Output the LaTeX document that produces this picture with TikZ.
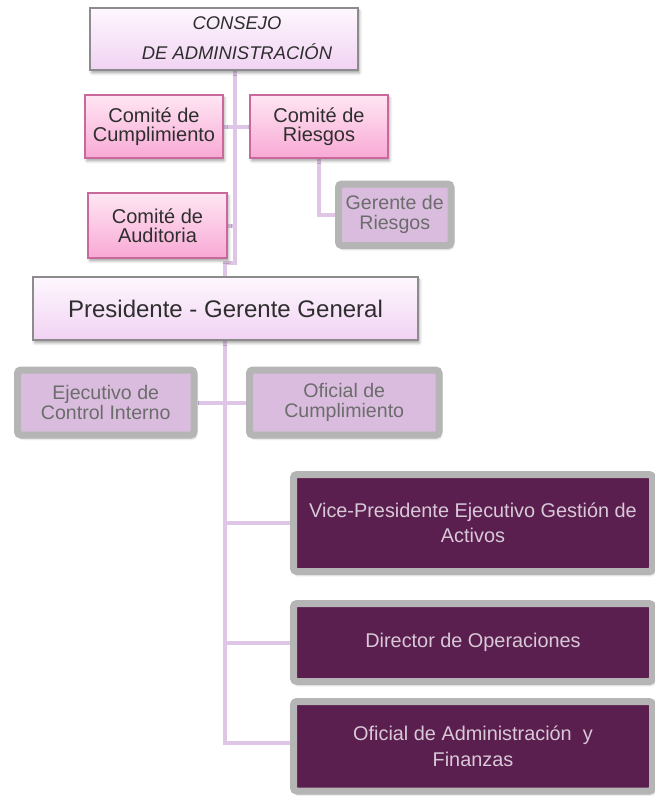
\documentclass[tikz,border=0pt]{standalone}
\usepackage{fontspec}
\setmainfont{Liberation Sans}
\usetikzlibrary{backgrounds,shadows.blur}
\definecolor{linec}{HTML}{DFC6E6}
\definecolor{topbg1}{HTML}{FEF7FE}
\definecolor{topbg2}{HTML}{F1D3F3}
\definecolor{topbd}{HTML}{8C8C8C}
\definecolor{pink1}{HTML}{FFE6F3}
\definecolor{pink2}{HTML}{F8A9D5}
\definecolor{pinkbd}{HTML}{C9689A}
\definecolor{frame}{HTML}{B5B5B5}
\definecolor{lilac}{HTML}{DABDDE}
\definecolor{plum}{HTML}{5A1F4E}
\definecolor{plumtxt}{HTML}{D8C8D8}
\definecolor{graytxt}{HTML}{6C6C6C}
\definecolor{darktxt}{HTML}{2E2E2E}
\tikzset{
  shd/.style={blur shadow={shadow xshift=1.2pt, shadow yshift=-2.2pt, shadow blur radius=2pt, shadow opacity=35}},
  topbox/.style={draw=topbd, line width=0.9pt, top color=topbg1, bottom color=topbg2, shd, text=darktxt, align=center, inner sep=0pt},
  combox/.style={draw=pinkbd, line width=0.9pt, top color=pink1, bottom color=pink2, shd, text=darktxt, align=center, inner sep=0pt,
     font=\fontsize{15}{14}\selectfont},
  lilbox/.style={draw=frame, line width=5.25pt, rounded corners=2.5pt, fill=lilac, shd, text=graytxt, align=center, inner sep=0pt,
     font=\fontsize{14.7}{15}\selectfont},
  plumbox/.style={draw=frame, line width=5.25pt, rounded corners=2.5pt, fill=plum, shd, text=plumtxt, align=center, inner sep=0pt,
     font=\fontsize{14.9}{19}\selectfont, minimum width=359*0.75pt},
  conn/.style={draw=linec, line width=3pt}
}
\begin{document}
\begin{tikzpicture}[x=0.75pt,y=-0.75pt]
\useasboundingbox (0,0) rectangle (654,796);
% nodes
\node[topbox, minimum width=268*0.75pt, minimum height=62*0.75pt] (cons) at (224,39) {};
\node[text=darktxt, align=center, inner sep=0pt, font=\fontsize{13.8}{23}\selectfont\itshape] (constxt) at (237,38) {CONSEJO\\DE ADMINISTRACIÓN};
\node[combox, minimum width=138*0.75pt, minimum height=63*0.75pt] (cc) at (154,126.5) {Comité de\\Cumplimiento};
\node[combox, minimum width=138*0.75pt, minimum height=63*0.75pt] (cr) at (319,126.5) {Comité de\\Riesgos};
\node[lilbox, minimum width=112.5*0.75pt, minimum height=61.5*0.75pt] (gr) at (394.75,214.75) {Gerente de\\Riesgos};
\node[combox, minimum width=139*0.75pt, minimum height=65*0.75pt] (ca) at (157.5,225.5) {Comité de\\Auditoria};
\node[topbox, minimum width=385*0.75pt, minimum height=63*0.75pt, font=\fontsize{18}{20}\selectfont] (pres) at (225.5,308.5) {Presidente - Gerente General};
\node[lilbox, minimum width=176.5*0.75pt, minimum height=65*0.75pt] (eci) at (105.75,402.5) {Ejecutivo de\\Control Interno};
\node[lilbox, minimum width=189.5*0.75pt, minimum height=65*0.75pt] (ofc) at (344.25,402.5) {Oficial de\\Cumplimiento};
\node[plumbox, minimum height=97*0.75pt] (vp) at (473,523) {Vice-Presidente Ejecutivo Gestión de\\Activos};
\node[plumbox, minimum height=78*0.75pt] (dir) at (473,642.5) {Director de Operaciones};
\node[plumbox, minimum height=89.5*0.75pt] (oa) at (473,746.25) {Oficial de Administración\ \ y\\Finanzas};
% connectors
\coordinate (j1) at (235,263);
\coordinate (j2) at (225,263);
\coordinate (pv) at (225,743);
\begin{scope}[on background layer]
\draw[conn] (cons.south -| j1) -- (j1) -- (j2) -- (pres.north -| j2);
\draw[conn] (cc.east) -- (cr.west);
\draw[conn] (ca.east) -- (ca.east -| j1);
\draw[conn] (cr.south) |- (gr.west);
\draw[conn] (pres.south -| pv) -- (pv) -- (pv -| oa.west);
\draw[conn] (eci.east) -- (ofc.west);
\draw[conn] (vp.west -| pv) -- (vp.west);
\draw[conn] (dir.west -| pv) -- (dir.west);
\end{scope}
\end{tikzpicture}
\end{document}
